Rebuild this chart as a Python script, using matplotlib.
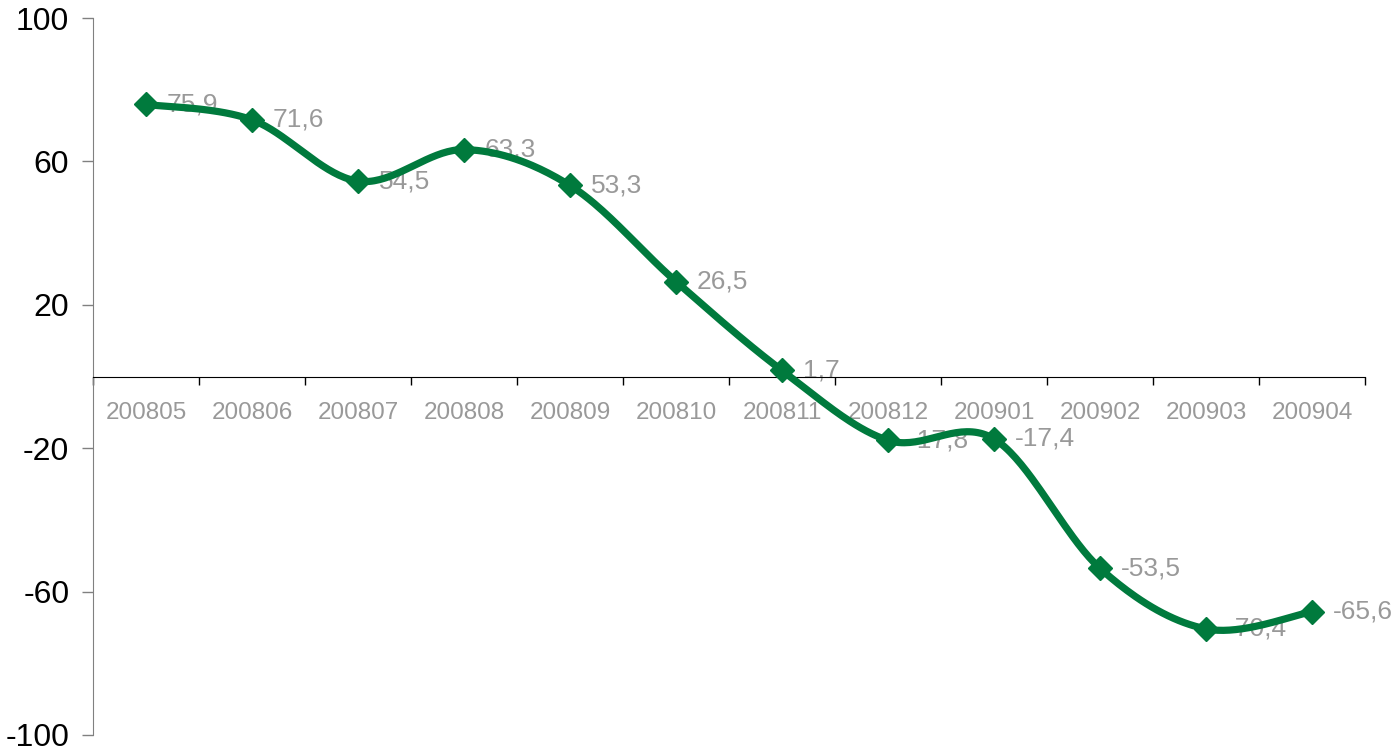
import numpy as np
import matplotlib.pyplot as plt

plt.rcParams['font.family'] = ['Liberation Sans', 'DejaVu Sans']

months = ['200805', '200806', '200807', '200808', '200809', '200810',
          '200811', '200812', '200901', '200902', '200903', '200904']
values = [75.9, 71.6, 54.5, 63.3, 53.3, 26.5, 1.7, -17.8, -17.4, -53.5, -70.4, -65.6]
labels = ['75,9', '71,6', '54,5', '63,3', '53,3', '26,5', '1,7', '-17,8', '-17,4',
          '-53,5', '-70,4', '-65,6']

green = '#007a3d'
grey_txt = '#999999'


def excel_smooth(x, y, sx=106.0, sy=3.585, n=40):
    # bezier smoothing like excel, done in pixel-ish space
    px = np.asarray(x, float) * sx
    py = np.asarray(y, float) * sy
    out_x, out_y = [], []
    m = len(px)
    for i in range(m - 1):
        p0 = (px[max(i - 1, 0)], py[max(i - 1, 0)])
        p1 = (px[i], py[i])
        p2 = (px[i + 1], py[i + 1])
        p3 = (px[min(i + 2, m - 1)], py[min(i + 2, m - 1)])
        c1 = (p1[0] + (p2[0] - p0[0]) / 6, p1[1] + (p2[1] - p0[1]) / 6)
        c2 = (p2[0] - (p3[0] - p1[0]) / 6, p2[1] - (p3[1] - p1[1]) / 6)
        t = np.linspace(0, 1, n)
        bx = (1 - t) ** 3 * p1[0] + 3 * (1 - t) ** 2 * t * c1[0] + 3 * (1 - t) * t ** 2 * c2[0] + t ** 3 * p2[0]
        by = (1 - t) ** 3 * p1[1] + 3 * (1 - t) ** 2 * t * c1[1] + 3 * (1 - t) * t ** 2 * c2[1] + t ** 3 * p2[1]
        out_x.extend(bx)
        out_y.extend(by)
    return np.array(out_x) / sx, np.array(out_y) / sy


x = np.arange(len(months))
sx, sy = excel_smooth(x, values)

fig = plt.figure(figsize=(13.94, 7.48), dpi=100)
ax = fig.add_axes([0.0667, 0.01738, 0.9125, 0.9585])

ax.plot(sx, sy, color=green, lw=5.2, zorder=3, solid_capstyle='round')
ax.plot(x, values, ls='none', marker='D', ms=12, color=green, zorder=4)

for xi, v, lab in zip(x, values, labels):
    ax.annotate(lab, (xi, v), xytext=(15, 0), textcoords='offset points',
                ha='left', va='center', fontsize=19, color=grey_txt, zorder=2)

ax.set_xlim(-0.5, len(months) - 0.5)
ax.set_ylim(-100, 100)
ax.set_yticks([100, 60, 20, -20, -60, -100])
ax.set_yticklabels(['100', '60', '20', '-20', '-60', '-100'])
ax.tick_params(axis='y', direction='out', length=8, width=1, color='#808080',
               labelsize=23, pad=9, labelcolor='black')

ax.spines['top'].set_visible(False)
ax.spines['right'].set_visible(False)
ax.spines['left'].set_color('#808080')
ax.spines['bottom'].set_position(('data', 0))
ax.spines['bottom'].set_color('black')

ax.set_xticks(np.arange(-0.5, len(months), 1.0))
ax.set_xticklabels([])
ax.set_xticks(x, minor=True)
ax.set_xticklabels(months, minor=True)
ax.tick_params(axis='x', which='major', direction='out', length=6, width=1, color='black')
ax.tick_params(axis='x', which='minor', length=0, pad=18, labelsize=17.5, labelcolor=grey_txt)

fig.savefig('out.png', dpi=100)
